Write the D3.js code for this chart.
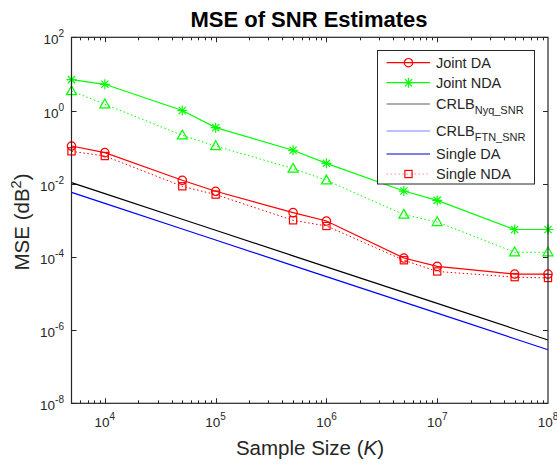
<!DOCTYPE html>
<html><head><meta charset="utf-8">
<script src="https://cdn.jsdelivr.net/npm/d3@7"></script>
<style>body{margin:0;background:#fff}svg{display:block}text{font-family:"Liberation Sans",Arial,sans-serif;fill:#262626}</style>
</head><body><svg id="c" width="557" height="465"></svg>
<script>
const sampleSizes = [5e3, 1e4, 5e4, 1e5, 5e5, 1e6, 5e6, 1e7, 5e7, 1e8];
const jointDA   = [0.107, 0.0708, 0.0124, 0.0062, 0.00162, 9.55e-4, 9.3e-5, 5.5e-5, 3.4e-5, 3.4e-5];
const jointNDA  = [6.98, 5.2, 1.0, 0.34, 0.082, 0.036, 0.0063, 0.0035, 5.6e-4, 5.6e-4];
const singleNDA = [0.0767, 0.057, 0.0085, 0.00504, 1.0e-3, 7.0e-4, 8.1e-5, 4.0e-5, 2.8e-5, 2.65e-5];
const triNDA    = [3.41, 1.48, 0.21, 0.107, 0.0259, 0.0124, 0.00143, 9.0e-4, 1.34e-4, 1.34e-4];
const crlbNyq   = [0.0107, 5.35e-3, 1.07e-3, 5.35e-4, 1.07e-4, 5.35e-5, 1.07e-5, 5.35e-6, 1.07e-6, 5.35e-7];
const crlbFTN   = [5.8e-3, 2.9e-3, 5.8e-4, 2.9e-4, 5.8e-5, 2.9e-5, 5.8e-6, 2.9e-6, 5.8e-7, 2.9e-7];
const xTickExps = [4, 5, 6, 7, 8];
const yTickExps = [-8, -6, -4, -2, 0, 2];
const legendItems = [
  {main:"Joint DA", sub:"", color:"#ff0000", dash:null, marker:"circle"},
  {main:"Joint NDA", sub:"", color:"#00ff00", dash:null, marker:"star"},
  {main:"CRLB", sub:"Nyq_SNR", color:"#606060", dash:null, marker:null},
  {main:"CRLB", sub:"FTN_SNR", color:"#8080ff", dash:null, marker:null},
  {main:"Single DA", sub:"", color:"#0000d0", dash:null, marker:null},
  {main:"Single NDA", sub:"", color:"#ff9090", dash:"1.5,2.5", marker:"square", mcolor:"#ff0000"}
];

const svg = d3.select("#c");
const L = 71.5, R = 548, T = 37.3, B = 403.3;
const x = d3.scaleLog().domain([5e3, 1e8]).range([L, R]);
const y = d3.scaleLog().domain([1e-8, 1e2]).range([B, T]);
const axisColor = "#262626";

svg.append("rect").attr("x",L).attr("y",T).attr("width",R-L).attr("height",B-T).attr("fill","#fff");

// ticks
const g = svg.append("g").attr("stroke", axisColor).attr("stroke-width",1);
const minorX = [];
for (let e = 3; e < 8; e++) for (let m = 1; m < 10; m++) { const v = m*Math.pow(10,e); if (v > 5e3 && v < 1e8) minorX.push(v); }
minorX.forEach(v => {
  const isMajor = Math.abs(Math.log10(v) - Math.round(Math.log10(v))) < 1e-9;
  const len = isMajor ? 5 : 3;
  const px = Math.round(x(v)) + 0.5;
  g.append("line").attr("x1",px).attr("x2",px).attr("y1",B).attr("y2",B-len);
  g.append("line").attr("x1",px).attr("x2",px).attr("y1",T).attr("y2",T+len);
});
yTickExps.forEach(e => {
  const py = Math.round(y(Math.pow(10,e))) + 0.5;
  g.append("line").attr("x1",L).attr("x2",L+5).attr("y1",py).attr("y2",py);
  g.append("line").attr("x1",R).attr("x2",R-5).attr("y1",py).attr("y2",py);
});

// data lines
const line = d3.line().x((d,i)=>x(sampleSizes[i])).y(d=>y(d));
const plotG = svg.append("g");
function series(vals, color, dash, width) {
  plotG.append("path").attr("d", line(vals)).attr("fill","none").attr("stroke",color)
    .attr("stroke-width", width||1.2).attr("stroke-dasharray", dash||null);
}
series(crlbNyq, "#000000");
series(crlbFTN, "#0000ff");
series(singleNDA, "#ff0000", "1.5,2.5", 1);
series(triNDA, "#00ff00", "1.5,2.5", 1);
series(jointDA, "#ff0000");
series(jointNDA, "#00ff00");

function marker(sel, type, color, cx, cy) {
  const m = sel.append("g").attr("transform",`translate(${cx},${cy})`).attr("fill","none").attr("stroke",color).attr("stroke-width",1.2);
  if (type==="circle") m.append("circle").attr("r",4.2);
  else if (type==="square") m.append("rect").attr("x",-3.6).attr("y",-3.6).attr("width",7.2).attr("height",7.2);
  else if (type==="triangle") m.append("path").attr("d","M0,-5.2L5,3.6L-5,3.6Z");
  else if (type==="star") m.append("path").attr("d","M-5,0H5M0,-5V5M-3.6,-3.6L3.6,3.6M-3.6,3.6L3.6,-3.6");
}
function markers(vals, type, color) {
  vals.forEach((v,i)=>marker(plotG, type, color, x(sampleSizes[i]), y(v)));
}
markers(singleNDA, "square", "#ff0000");
markers(triNDA, "triangle", "#00ff00");
markers(jointDA, "circle", "#ff0000");
markers(jointNDA, "star", "#00ff00");

// frame
svg.append("rect").attr("x",L).attr("y",T).attr("width",R-L).attr("height",B-T).attr("fill","none").attr("stroke",axisColor).attr("stroke-width",1.2);

// tick labels
xTickExps.forEach(e => {
  const t = svg.append("text").attr("x", x(Math.pow(10,e))).attr("y", 427).attr("text-anchor","middle").attr("font-size",13.5);
  t.append("tspan").text("10");
  t.append("tspan").attr("dy",-7).attr("font-size",10).text(e);
});
yTickExps.forEach(e => {
  const t = svg.append("text").attr("x", 64).attr("y", y(Math.pow(10,e))+7).attr("text-anchor","end").attr("font-size",13.5);
  t.append("tspan").text("10");
  t.append("tspan").attr("dy",-7).attr("font-size",10).text(e);
});

// title and labels
svg.append("text").attr("x",309).attr("y",27).attr("text-anchor","middle").attr("font-size",22).attr("font-weight","bold").style("fill","#000").text("MSE of SNR Estimates");
const xl = svg.append("text").attr("x",310).attr("y",455).attr("text-anchor","middle").attr("font-size",20.5);
xl.append("tspan").text("Sample Size (");
xl.append("tspan").attr("font-style","italic").text("K");
xl.append("tspan").text(")");
const yl = svg.append("text").attr("transform","translate(29,222) rotate(-90)").attr("text-anchor","middle").attr("font-size",20.5);
yl.append("tspan").text("MSE (dB");
yl.append("tspan").attr("dy",-8).attr("font-size",14.5).text("2");
yl.append("tspan").attr("dy",8).text(")");

// legend
const lg = svg.append("g");
lg.append("rect").attr("x",377.5).attr("y",50.5).attr("width",157).attr("height",133.5).attr("fill","#fff").attr("stroke",axisColor).attr("stroke-width",1);
const legY = [62.7, 82.7, 104, 131, 154, 174];
legendItems.forEach((it,i) => {
  const yy = legY[i];
  lg.append("line").attr("x1",386.5).attr("x2",430).attr("y1",yy).attr("y2",yy).attr("stroke",it.color).attr("stroke-width",1.2).attr("stroke-dasharray",it.dash);
  if (it.marker) marker(lg, it.marker, it.mcolor||it.color, 408.5, yy);
  const t = lg.append("text").attr("x",436).attr("y", yy+5).attr("font-size",14.5);
  t.append("tspan").text(it.main);
  if (it.sub) t.append("tspan").attr("dy",5).attr("font-size",11).text(it.sub);
});
</script></body></html>
